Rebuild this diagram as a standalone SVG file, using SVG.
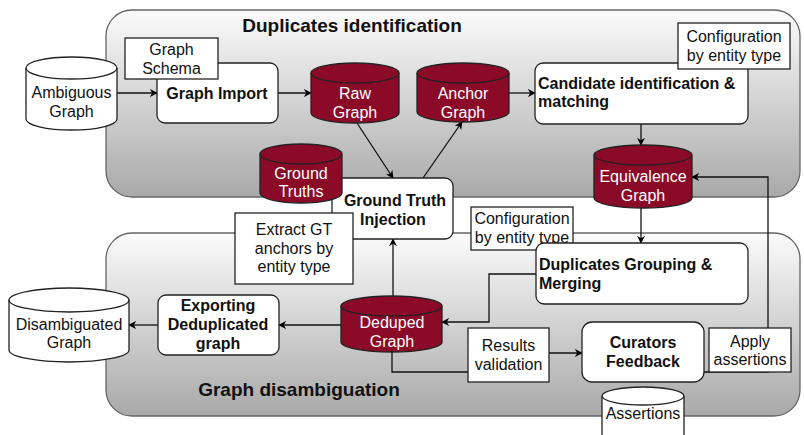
<svg xmlns="http://www.w3.org/2000/svg" width="804" height="435" viewBox="0 0 804 435">
<defs>
<linearGradient id="gr" x1="0" y1="0" x2="0" y2="1">
<stop offset="0" stop-color="#fbfbfb"/>
<stop offset="1" stop-color="#a9a9a9"/>
</linearGradient>
<marker id="ah" viewBox="0 0 10 10" refX="9" refY="5" markerWidth="8" markerHeight="8" markerUnits="userSpaceOnUse" orient="auto">
<path d="M0,0 L10,5 L0,10 L3,5 z" fill="#000"/>
</marker>
<style>
.ct{fill:url(#gr);stroke:#666;stroke-width:1.3}
.bx{fill:#fff;stroke:#222;stroke-width:1.3}
.cw{fill:#fff;stroke:#222;stroke-width:1.3}
.cr{fill:#8a0a27;stroke:#222;stroke-width:1.3}
.ce{fill:none;stroke:#222;stroke-width:1.3}
.ln{fill:none;stroke:#111;stroke-width:1.3}
.ar{fill:none;stroke:#111;stroke-width:1.3;marker-end:url(#ah)}
text{font-family:"Liberation Sans",Arial,sans-serif;font-size:16px;fill:#111;text-anchor:middle}
.b{font-weight:bold}
.w{fill:#fff}
.l{text-anchor:start}
.t{font-weight:bold;font-size:19px}
</style>
</defs>

<g id="containers">
<g id="duplicates-identification"><rect class="ct" x="106" y="10" width="694" height="187" rx="26"/><text class="t" x="352" y="32">Duplicates identification</text></g>
<g id="graph-disambiguation"><rect class="ct" x="106" y="233" width="694" height="183" rx="26"/><text class="t" x="299" y="396">Graph disambiguation</text></g>
</g>

<g id="connectors">
<path class="ar" d="M117,93 H157"/>
<path class="ar" d="M278,93 H311"/>
<path class="ar" d="M509,93 H535"/>
<path class="ar" d="M357,123 L393,178"/>
<path class="ar" d="M423,178 L462,122"/>
<path class="ar" d="M641,124 V145"/>
<path class="ar" d="M641,208 V243"/>
<path class="ar" d="M536,274 H489 V322 H442"/>
<path class="ar" d="M341,325 H279"/>
<path class="ar" d="M158,325 H129"/>
<path class="ar" d="M393,296 V239"/>
<path class="ar" d="M392,352 V372 H510 V353 H582"/>
<path class="ar" d="M704,372 H768 V177 H692"/>
</g>

<g id="ambiguous-graph">
<path class="cw" d="M26,68 a45.5,11 0 0 1 91,0 v51 a45.5,11 0 0 1 -91,0 z"/>
<path class="ce" d="M26,68 a45.5,11 0 0 0 91,0"/>
<text x="71.5" y="98">Ambiguous</text><text x="71.5" y="117">Graph</text>
</g>

<g id="graph-import">
<rect class="bx" x="157" y="63" width="121" height="60" rx="8"/>
<text class="b" x="217" y="99">Graph Import</text>
</g>
<g id="graph-schema">
<rect class="bx" x="125" y="38" width="93" height="41"/>
<text x="171.5" y="55">Graph</text><text x="171.5" y="74">Schema</text>
</g>

<g id="raw-graph">
<path class="cr" d="M311,73 a44,10 0 0 1 88,0 v40 a44,10 0 0 1 -88,0 z"/>
<path class="ce" d="M311,73 a44,10 0 0 0 88,0"/>
<text class="w" x="355" y="99">Raw</text><text class="w" x="355" y="118">Graph</text>
</g>

<g id="anchor-graph">
<path class="cr" d="M417,73 a46,10 0 0 1 92,0 v39 a46,10 0 0 1 -92,0 z"/>
<path class="ce" d="M417,73 a46,10 0 0 0 92,0"/>
<text class="w" x="463" y="98.5">Anchor</text><text class="w" x="463" y="117.5">Graph</text>
</g>

<g id="candidate-identification">
<rect class="bx" x="535" y="63" width="213" height="61" rx="8"/>
<text class="b l" x="538" y="89">Candidate identification &amp;</text>
<text class="b l" x="538" y="107">matching</text>
</g>
<g id="config-top">
<rect class="bx" x="678" y="23" width="112" height="46"/>
<text x="734" y="42">Configuration</text><text x="734" y="61">by entity type</text>
</g>

<g id="equivalence-graph">
<path class="cr" d="M594,155 a49,10 0 0 1 98,0 v43 a49,10 0 0 1 -98,0 z"/>
<path class="ce" d="M594,155 a49,10 0 0 0 98,0"/>
<text class="w" x="643" y="182">Equivalence</text><text class="w" x="643" y="200.5">Graph</text>
</g>

<g id="ground-truth-injection">
<rect class="bx" x="332" y="178" width="121" height="61" rx="8"/>
<text class="b" x="395" y="205.5">Ground Truth</text><text class="b" x="393" y="225">Injection</text>
</g>

<g id="ground-truths">
<path class="cr" d="M260,154 a41,10 0 0 1 82,0 v39 a41,10 0 0 1 -82,0 z"/>
<path class="ce" d="M260,154 a41,10 0 0 0 82,0"/>
<text class="w" x="301" y="179">Ground</text><text class="w" x="301" y="197">Truths</text>
</g>

<g id="extract-gt">
<rect class="bx" x="235" y="213" width="118" height="71"/>
<text x="294" y="235">Extract GT</text><text x="294" y="254">anchors by</text><text x="294" y="272">entity type</text>
</g>

<g id="config-middle">
<rect class="bx" x="471" y="207" width="102" height="43"/>
<text x="522" y="224">Configuration</text><text x="522" y="243">by entity type</text>
</g>

<g id="duplicates-grouping">
<rect class="bx" x="536" y="243" width="212" height="61" rx="8"/>
<text class="b l" x="539" y="270">Duplicates Grouping &amp;</text>
<text class="b l" x="539" y="289">Merging</text>
</g>

<g id="deduped-graph">
<path class="cr" d="M341,306 a50.5,10 0 0 1 101,0 v36 a50.5,10 0 0 1 -101,0 z"/>
<path class="ce" d="M341,306 a50.5,10 0 0 0 101,0"/>
<text class="w" x="392" y="328">Deduped</text><text class="w" x="392" y="346.5">Graph</text>
</g>

<g id="exporting">
<rect class="bx" x="158" y="295" width="121" height="60" rx="8"/>
<text class="b" x="218" y="311">Exporting</text><text class="b" x="218" y="330">Deduplicated</text><text class="b" x="218" y="349">graph</text>
</g>

<g id="disambiguated-graph">
<path class="cw" d="M9,300 a60,12 0 0 1 120,0 v50 a60,12 0 0 1 -120,0 z"/>
<path class="ce" d="M9,300 a60,12 0 0 0 120,0"/>
<text x="69" y="329.5">Disambiguated</text><text x="69" y="348">Graph</text>
</g>

<g id="results-validation">
<rect class="bx" x="468" y="328" width="81" height="54"/>
<text x="508.5" y="350.5">Results</text><text x="508.5" y="370">validation</text>
</g>

<g id="curators-feedback">
<rect class="bx" x="582" y="322" width="122" height="60" rx="10"/>
<text class="b" x="643" y="348">Curators</text><text class="b" x="643" y="366.5">Feedback</text>
</g>

<g id="apply-assertions">
<rect class="bx" x="709" y="328" width="82" height="44"/>
<text x="750" y="346.5">Apply</text><text x="750" y="365">assertions</text>
</g>

<g id="assertions">
<path class="cw" d="M602,396 a41,9 0 0 1 82,0 v50 a41,9 0 0 1 -82,0 z"/>
<path class="ce" d="M602,396 a41,9 0 0 0 82,0"/>
<text x="643" y="419">Assertions</text>
</g>
</svg>
